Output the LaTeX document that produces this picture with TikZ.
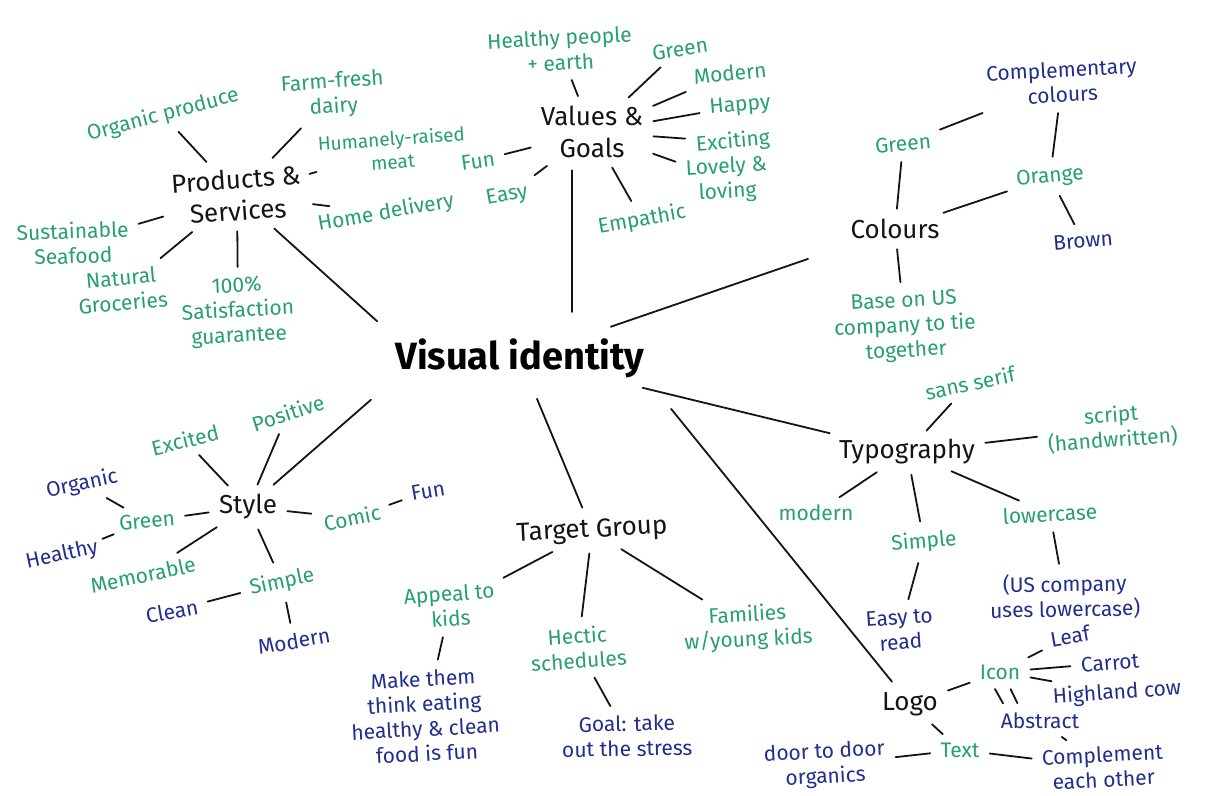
\documentclass[tikz,border=0pt]{standalone}
\usepackage{fontspec}
\setmainfont{Fira Sans}
\definecolor{pgreen}{RGB}{38,160,108}
\definecolor{pblue}{RGB}{32,46,140}
\definecolor{pink}{RGB}{20,20,20}
\begin{document}
\begin{tikzpicture}[x=0.5pt,y=-0.5pt,
  lbl/.style={font=\fontsize{10.5}{12.5}\selectfont, inner sep=2pt, align=center},
  gr/.style={lbl, text=pgreen},
  bl/.style={lbl, text=pblue},
  hub/.style={font=\fontsize{13}{16}\selectfont, inner sep=2pt, align=center, text=pink},
  mainnode/.style={font=\fontsize{19}{21}\selectfont\bfseries, inner sep=3pt, text=black},
  con/.style={draw=pink, line width=0.9pt, line cap=round, shorten <=3pt, shorten >=3pt},
  vicon/.style={con, shorten <=8pt, shorten >=4pt}]
\useasboundingbox[fill=white] (0,0) rectangle (1216,796);

\node[mainnode] (vi) at (520,358) {Visual identity};

% Products & Services
\node[hub, rotate=4] (ps) at (237,195) {Products \&\\Services};
\node[gr, rotate=15] (op) at (163,115) {Organic produce};
\node[gr, rotate=4] (ffd) at (333,95) {Farm-fresh\\dairy};
\node[gr, rotate=4, font=\fontsize{9.5}{11.5}\selectfont] (hrm) at (392,150) {Humanely-raised\\meat};
\node[gr, rotate=10] (hd) at (386,213) {Home delivery};
\node[gr, rotate=3] (sat) at (238,312) {100\%\\Satisfaction\\guarantee};
\node[gr, rotate=5] (ng) at (122,290) {Natural\\Groceries};
\node[gr, rotate=2] (ss) at (73,243) {Sustainable\\Seafood};

% Values & Goals
\node[hub] (vg) at (592,132) {Values \&\\Goals};
\node[gr, rotate=3] (hpe) at (560,50) {Healthy people\\+ earth};
\node[gr, rotate=8] (vgreen) at (680,49) {Green};
\node[gr, rotate=6] (vmod) at (730,73) {Modern};
\node[gr, rotate=5] (vhap) at (740,106) {Happy};
\node[gr, rotate=5] (vexc) at (733,142) {Exciting};
\node[gr, rotate=3] (vlov) at (727,180) {Lovely \&\\loving};
\node[gr, rotate=10] (vemp) at (642,220) {Empathic};
\node[gr, rotate=10] (veasy) at (507,196) {Easy};
\node[gr, rotate=8] (vfun) at (478,161) {Fun};

% Colours
\node[hub] (col) at (895,229) {Colours};
\node[gr, rotate=5] (cgreen) at (903,144) {Green};
\node[bl, rotate=3] (ccomp) at (1062,82) {Complementary\\colours};
\node[gr, rotate=5] (corange) at (1050,177) {Orange};
\node[bl, rotate=5] (cbrown) at (1083,241) {Brown};
\node[gr, rotate=3] (cbase) at (905,327) {Base on US\\company to tie\\together};

% Style
\node[hub] (sty) at (248,507) {Style};
\node[gr, rotate=14] (sexc) at (185,440) {Excited};
\node[gr, rotate=18] (spos) at (288,413) {Positive};
\node[bl, rotate=12] (sorg) at (82,484) {Organic};
\node[gr, rotate=5] (sgreen) at (147,521) {Green};
\node[bl, rotate=12] (shea) at (62,555) {Healthy};
\node[gr, rotate=12] (smem) at (143,575) {Memorable};
\node[gr, rotate=12] (scom) at (352,518) {Comic};
\node[bl, rotate=10] (sfun) at (428,491) {Fun};
\node[gr, rotate=12] (ssim) at (282,582) {Simple};
\node[bl, rotate=10] (scle) at (172,611) {Clean};
\node[bl, rotate=10] (smod) at (294,641) {Modern};

% Target Group
\node[hub, rotate=3] (tg) at (592,531) {Target Group};
\node[gr, rotate=4] (tapp) at (450,606) {Appeal to\\kids};
\node[bl, rotate=3] (tmake) at (425,716) {Make them\\think eating\\healthy \& clean\\food is fun};
\node[gr, rotate=4] (thec) at (578,648) {Hectic\\schedules};
\node[bl, rotate=1] (tgoal) at (627,736) {Goal: take\\out the stress};
\node[gr, rotate=3] (tfam) at (748,628) {Families\\w/young kids};

% Typography
\node[hub] (typ) at (907,452) {Typography};
\node[gr, rotate=12] (tsans) at (970,383) {sans serif};
\node[gr, rotate=4] (tscr) at (1112,428) {script\\(handwritten)};
\node[gr] (tmod) at (816,513) {modern};
\node[gr, rotate=5] (tsim) at (924,542) {Simple};
\node[gr, rotate=3] (tlow) at (1050,514) {lowercase};
\node[bl, rotate=1] (tus) at (1065,597) {(US company\\uses lowercase)};
\node[bl, rotate=4] (teasy) at (900,630) {Easy to\\read};

% Logo
\node[hub] (logo) at (910,704) {Logo};
\node[gr] (licon) at (1000,672) {Icon};
\node[bl, rotate=10] (lleaf) at (1070,636) {Leaf};
\node[bl, rotate=5] (lcar) at (1110,663) {Carrot};
\node[bl, rotate=4] (lhigh) at (1117,693) {Highland cow};
\node[bl] (labs) at (1040,721) {Abstract};
\node[gr] (ltext) at (960,750) {Text};
\node[bl, rotate=3] (ldoor) at (825,765) {door to door\\organics};
\node[bl, rotate=3] (lcomp) at (1103,767) {Complement\\each other};

% connectors from the centre
\draw[vicon] (vi.north west) -- (ps);
\draw[vicon, shorten <=10pt] ([xshift=26pt]vi.north) -- ([xshift=-10pt]vg.south);
\draw[vicon, shorten >=24pt] (vi) -- (col);
\draw[vicon] (vi) -- (typ);
\draw[vicon, shorten <=16pt] (vi.south east) -- (logo);
\draw[vicon] (vi) -- (tg);
\draw[vicon, shorten <=12pt] (vi.south west) -- (sty);

% Products & Services
\foreach \n in {op,ffd,hd,sat,ng,ss} \draw[con] (ps) -- (\n);
\draw[con, shorten <=6pt] (ps) -- (hrm);
% Values & Goals
\foreach \n in {hpe,vgreen,vmod,vhap,vexc,vlov,vemp,veasy,vfun} \draw[con] (vg) -- (\n);
% Colours
\foreach \n in {cgreen,corange,cbase} \draw[con] (col) -- (\n);
\draw[con] (cgreen) -- (ccomp);
\draw[con] (ccomp) -- (corange);
\draw[con] (corange) -- (cbrown);
% Style
\foreach \n in {sexc,spos,sgreen,smem,scom,ssim} \draw[con] (sty) -- (\n);
\draw[con] (sorg) -- (sgreen);
\draw[con, shorten <=1pt, shorten >=1pt] (shea) -- (sgreen);
\draw[con] (scom) -- (sfun);
\draw[con] (ssim) -- (scle);
\draw[con] (ssim) -- (smod);
% Target Group
\foreach \n in {tapp,thec,tfam} \draw[con] (tg) -- (\n);
\draw[con] (tapp) -- (tmake);
\draw[con] (thec) -- (tgoal);
% Typography
\foreach \n in {tsans,tscr,tmod,tsim,tlow} \draw[con] (typ) -- (\n);
\draw[con] (tsim) -- (teasy);
\draw[con] (tlow) -- (tus);
% Logo
\draw[con] (logo) -- (licon);
\draw[con] (logo) -- (ltext);
\draw[con] (licon) -- (lleaf);
\draw[con] (licon) -- (lcar);
\draw[con] (licon) -- (lhigh);
\draw[con] ([xshift=-4pt]licon.south) -- ([xshift=-17pt]labs.north);
\draw[con] ([xshift=4pt]licon.south) -- ([xshift=-10pt]labs.north);
\draw[con] (labs) -- (lcomp);
\draw[con] (ltext) -- (lcomp);
\draw[con] (ldoor) -- (ltext);
\end{tikzpicture}
\end{document}
